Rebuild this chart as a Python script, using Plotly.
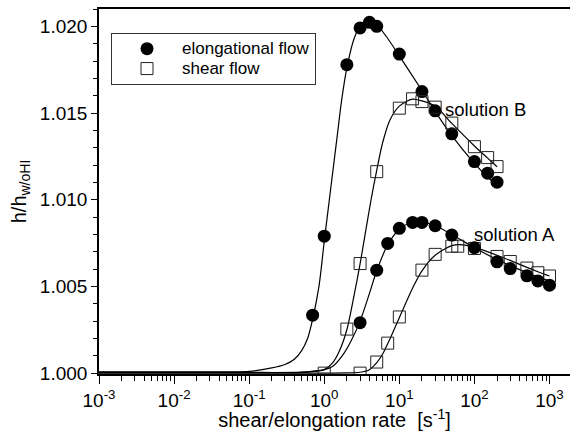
import plotly.graph_objects as go

# Measured points: solution B
rate_elong_B = [0.7, 1, 2, 3, 4, 5, 10, 20, 30, 50, 100, 150, 200]
h_elong_B = [1.00334, 1.00790, 1.01779, 1.01991, 1.02023, 1.02000, 1.01840,
             1.01624, 1.01513, 1.01380, 1.01220, 1.01153, 1.01101]
rate_shear_B = [1, 2, 3, 5, 10, 15, 20, 30, 50, 100, 150, 200]
h_shear_B = [1.00000, 1.00254, 1.00632, 1.01162, 1.01528, 1.01582, 1.01566,
             1.01534, 1.01442, 1.01306, 1.01243, 1.01191]

# Measured points: solution A
rate_elong_A = [3, 5, 7, 10, 15, 20, 30, 50, 100, 200, 300, 500, 700, 1000]
h_elong_A = [1.00291, 1.00594, 1.00748, 1.00835, 1.00869, 1.00869, 1.00850,
             1.00796, 1.00723, 1.00642, 1.00603, 1.00561, 1.00532, 1.00507]
rate_shear_A = [3, 5, 7, 10, 20, 30, 50, 60, 100, 200, 300, 500, 700, 1000]
h_shear_A = [1.00000, 1.00064, 1.00173, 1.00324, 1.00594, 1.00685, 1.00732,
             1.00732, 1.00719, 1.00673, 1.00644, 1.00606, 1.00579, 1.00560]

# Model curves
fit_rate_elong_B = [0.001, 0.01, 0.1, 0.2, 0.3, 0.4, 0.5, 0.6, 0.7, 0.85, 1.0, 1.2,
                    1.5, 1.7, 2, 2.5, 3, 4, 5, 7, 10, 20, 30, 50, 100, 150, 200]
fit_h_elong_B = [1.00008, 1.00008, 1.0001, 1.0003, 1.0005, 1.0008, 1.0013, 1.0020,
                 1.0031, 1.0050, 1.0076, 1.0104, 1.0138, 1.0157, 1.0176, 1.0193,
                 1.0200, 1.0203, 1.0201, 1.0193, 1.0183, 1.0163, 1.0151, 1.0137,
                 1.0121, 1.0113, 1.0108]
fit_rate_shear_B = [0.001, 0.01, 0.1, 0.3, 0.6, 1.0, 1.3, 1.6, 2, 2.5, 3, 3.5, 4.2,
                    5, 6, 7.5, 10, 15, 20, 30, 50, 100, 150, 200]
fit_h_shear_B = [1.00003, 1.00003, 1.00003, 1.00003, 1.00006, 1.0002, 1.0006,
                 1.0013, 1.0025, 1.0045, 1.0063, 1.0080, 1.0100, 1.0117, 1.0133,
                 1.0146, 1.0154, 1.0158, 1.0157, 1.0154, 1.0144, 1.0131, 1.0124,
                 1.0119]
fit_rate_elong_A = [0.001, 0.01, 0.1, 0.5, 1.0, 1.3, 1.8, 2.3, 3, 4, 5, 7, 10, 15,
                    20, 30, 50, 100, 200, 300, 500, 700, 1000]
fit_h_elong_A = [1.00005, 1.00005, 1.00004, 1.00006, 1.0002, 1.0004, 1.0011, 1.0019,
                 1.0030, 1.0046, 1.0059, 1.0074, 1.0083, 1.0087, 1.0087, 1.0085,
                 1.0080, 1.00723, 1.00655, 1.0062, 1.0058, 1.00555, 1.0053]
fit_rate_shear_A = [0.001, 0.01, 0.1, 1, 2, 3, 4, 5, 6, 7, 8.5, 10, 15, 20, 30, 50,
                    70, 100, 200, 300, 500, 700, 1000]
fit_h_shear_A = [1.0, 1.0, 1.0, 1.0, 1.00001, 1.00005, 1.0002, 1.0006, 1.0011,
                 1.0017, 1.0025, 1.0032, 1.0049, 1.0059, 1.0068, 1.00735, 1.0074,
                 1.00725, 1.0068, 1.0065, 1.0061, 1.00585, 1.0056]

x_tickvals = [1e-3, 1e-2, 1e-1, 1, 10, 100, 1000]
x_ticktext = ["10<sup>-3</sup>", "10<sup>-2</sup>", "10<sup>-1</sup>", "10<sup>0</sup>",
              "10<sup>1</sup>", "10<sup>2</sup>", "10<sup>3</sup>"]
y_tickvals = [1.000, 1.005, 1.010, 1.015, 1.020]
y_ticktext = ["1.000", "1.005", "1.010", "1.015", "1.020"]

FONT = "Liberation Sans, Arial, Helvetica, sans-serif"


def legend_label(s):
    # larger glyphs than the legend row spacing implies
    return '<span style="font-size:17px">' + s + "</span>"


fig = go.Figure()

for fx, fy in [(fit_rate_elong_B, fit_h_elong_B), (fit_rate_shear_B, fit_h_shear_B),
               (fit_rate_elong_A, fit_h_elong_A), (fit_rate_shear_A, fit_h_shear_A)]:
    fig.add_trace(go.Scatter(x=fx, y=fy, mode="lines", showlegend=False,
                             line=dict(color="black", width=1.2, shape="spline",
                                       smoothing=0.8),
                             hoverinfo="skip"))

square_style = dict(symbol="square-open", size=12, color="#222",
                    line=dict(color="#222", width=1))
circle_style = dict(symbol="circle", size=13, color="black")

fig.add_trace(go.Scatter(x=rate_elong_B, y=h_elong_B, mode="markers",
                         name=legend_label("elongational flow"), legendgroup="el",
                         marker=circle_style))
fig.add_trace(go.Scatter(x=rate_shear_B, y=h_shear_B, mode="markers",
                         name=legend_label("shear flow"), legendgroup="sh",
                         marker=square_style))
fig.add_trace(go.Scatter(x=rate_shear_A, y=h_shear_A, mode="markers",
                         name="shear flow", legendgroup="sh", showlegend=False,
                         marker=square_style))
fig.add_trace(go.Scatter(x=rate_elong_A, y=h_elong_A, mode="markers",
                         name="elongational flow", legendgroup="el", showlegend=False,
                         marker=circle_style))

fig.add_annotation(x=1.582, y=1.01518, xref="x", yref="y", text="solution B",
                   showarrow=False, xanchor="left", yanchor="middle",
                   font=dict(size=18.5, color="black", family=FONT))
fig.add_annotation(x=1.964, y=1.00802, xref="x", yref="y", text="solution A",
                   showarrow=False, xanchor="left", yanchor="middle",
                   font=dict(size=18.5, color="black", family=FONT))

minor_x = [m * 10 ** k for k in range(-3, 4) for m in range(2, 10)]

fig.update_xaxes(type="log", range=[-3, 3.273],
                 tickmode="array", tickvals=x_tickvals, ticktext=x_ticktext,
                 ticks="outside", ticklen=8, tickwidth=1.2, tickcolor="black",
                 minor=dict(tickmode="array", tickvals=minor_x, ticks="outside",
                            ticklen=5, tickwidth=1, tickcolor="black"),
                 showline=True, linecolor="black", linewidth=1.6, mirror=True,
                 showgrid=False, zeroline=False,
                 tickfont=dict(size=19, color="black", family=FONT),
                 title=dict(text="shear/elongation rate\u00a0 [s<sup>-1</sup>]",
                            font=dict(size=20, color="black", family=FONT),
                            standoff=7))
fig.update_yaxes(range=[0.99995, 1.021],
                 tickmode="array", tickvals=y_tickvals, ticktext=y_ticktext,
                 ticks="outside", ticklen=6, tickwidth=1.2, tickcolor="black",
                 minor=dict(dtick=0.001, tick0=1.0, ticks="outside", ticklen=4,
                            tickwidth=1, tickcolor="black"),
                 showline=True, linecolor="black", linewidth=1.6, mirror=False,
                 showgrid=False, zeroline=False,
                 tickfont=dict(size=19, color="black", family=FONT),
                 title=dict(text="h/h<sub>w/oHI</sub>",
                            font=dict(size=20, color="black", family=FONT),
                            standoff=8))

fig.update_layout(
    width=570, height=431,
    margin=dict(l=99, r=0, t=9, b=57, pad=0),
    paper_bgcolor="white", plot_bgcolor="white",
    font=dict(family=FONT, color="black"),
    legend=dict(x=0.0255, y=0.935, xanchor="left", yanchor="top",
                bgcolor="white", bordercolor="#333", borderwidth=1,
                font=dict(size=13, color="black", family=FONT),
                itemwidth=60, tracegroupgap=0),
    showlegend=True,
)

fig.write_html("out.html")
